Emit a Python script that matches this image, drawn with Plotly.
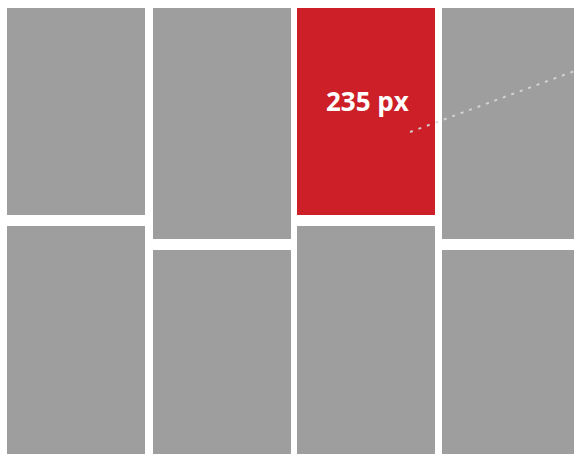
import plotly.graph_objects as go

# Masonry tiles: column left edges and the heights of the stacked tiles in each column (px)
column_left = [7, 153, 297, 442]
column_width = 138
tile_heights = [
    [207, 260],
    [231, 240],
    [207, 260],
    [231, 240],
]
highlight = (2, 0)          # (column, tile) of the highlighted tile
highlight_label = "235 px"
top_offset = 8
gap = 11

# dotted pointer line
pointer_x = [410, 580]
pointer_y = [132, 69]

GRAY = "#9e9e9e"
RED = "#cc1f27"

xs, bases, ys, colors = [], [], [], []
for ci, heights in enumerate(tile_heights):
    top = top_offset
    for ti, h in enumerate(heights):
        xs.append(column_left[ci] + column_width / 2)
        bases.append(top)
        ys.append(h)
        colors.append(RED if (ci, ti) == highlight else GRAY)
        top += h + gap

fig = go.Figure()
fig.add_trace(go.Bar(
    x=xs, y=ys, base=bases, width=column_width,
    marker=dict(color=colors, line=dict(width=0)),
    hoverinfo="skip", showlegend=False,
))

hc, ht = highlight
hx = column_left[hc] + column_width / 2
fig.add_trace(go.Scatter(
    x=pointer_x, y=pointer_y, mode="lines",
    line=dict(color="rgba(215,215,215,0.9)", width=2, dash="3px,6px"),
    hoverinfo="skip", showlegend=False,
))

fig.add_annotation(
    x=hx + 1, y=101, text="<b>" + highlight_label + "</b>", showarrow=False,
    font=dict(family="Open Sans", size=26, color="white"),
    xanchor="center", yanchor="middle",
)

fig.update_layout(
    width=574, height=454,
    margin=dict(l=0, r=0, t=0, b=0),
    paper_bgcolor="white", plot_bgcolor="white",
    xaxis=dict(range=[0, 574], visible=False, fixedrange=True),
    yaxis=dict(range=[454, 0], visible=False, fixedrange=True),
    bargap=0,
)

fig.write_html(
    "out.html",
    config={"displayModeBar": False},
    post_script="document.body.style.margin='0';document.body.style.overflow='hidden';",
)
